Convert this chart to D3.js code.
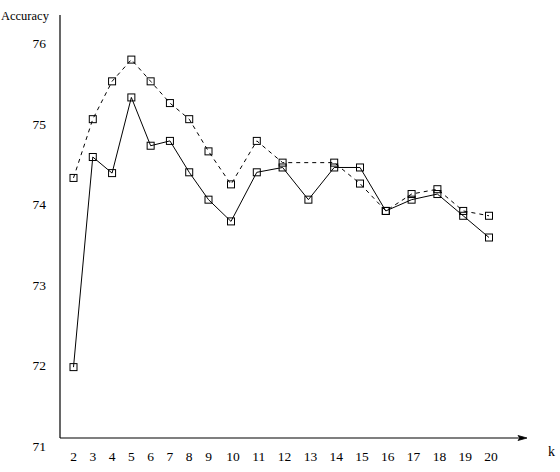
<!DOCTYPE html>
<html>
<head>
<meta charset="utf-8">
<script src="https://cdn.jsdelivr.net/npm/d3@7/dist/d3.min.js"></script>
<style>
  html, body { margin: 0; padding: 0; background: #fff; }
</style>
</head>
<body>
<svg id="chart" width="560" height="472"></svg>
<script>
// ---- data ----
const kValues = [2,3,4,5,6,7,8,9,10,11,12,13,14,15,16,17,18,19,20];
const solidSeries = [71.98,74.59,74.39,75.33,74.73,74.79,74.40,74.06,73.79,74.40,74.46,74.06,74.46,74.46,73.92,74.06,74.13,73.86,73.59];
const dashedSeries = [74.33,75.06,75.53,75.80,75.53,75.26,75.06,74.66,74.25,74.79,74.52,null,74.52,74.26,73.92,74.13,74.19,73.92,73.86];
const yTicks = [71,72,73,74,75,76];
const yLabel = "Accuracy";
const xLabel = "k";

// ---- drawing ----
const FONT = "'Liberation Serif', 'Times New Roman', 'DejaVu Serif', serif";
const svg = d3.select("#chart").attr("font-family", FONT);

const x = d3.scaleLinear().domain([2, 9, 10, 20]).range([73.5, 208.5, 231, 489]);
const y = d3.scaleLinear().domain([71, 76]).range([446, 43.5]);

const axisX = 60, axisY = 438;

// y axis line
svg.append("line").attr("x1", axisX).attr("x2", axisX).attr("y1", 15).attr("y2", axisY)
  .attr("stroke", "#000").attr("stroke-width", 1.2);
// x axis line with arrow
svg.append("line").attr("x1", axisX).attr("x2", 520).attr("y1", axisY).attr("y2", axisY)
  .attr("stroke", "#000").attr("stroke-width", 1.2);
svg.append("path").attr("d", `M527,${axisY} L518,${axisY-2.5} L520,${axisY} L518,${axisY+2.5} Z`)
  .attr("fill", "#000").attr("stroke", "#000").attr("stroke-width", 0.8);

// y tick labels
svg.selectAll("text.ytick").data(yTicks).enter().append("text")
  .attr("class", "ytick").attr("font-family", FONT)
  .attr("x", 46).attr("y", d => y(d)).attr("dy", "0.35em")
  .attr("text-anchor", "end").attr("font-size", 13.5)
  .text(d => d);

// x tick labels
svg.selectAll("text.xtick").data(kValues).enter().append("text")
  .attr("class", "xtick").attr("font-family", FONT)
  .attr("x", d => x(d) + (d >= 10 ? 2 : 0)).attr("y", 461)
  .attr("text-anchor", "middle").attr("font-size", 13.5)
  .text(d => d);

// axis labels
svg.append("text").attr("x", 1).attr("y", 20).attr("text-anchor", "start")
  .attr("font-family", FONT).attr("font-size", 12.5).text(yLabel);
svg.append("text").attr("x", 548).attr("y", 456).attr("font-family", FONT)
  .attr("font-size", 14).text(xLabel);

function pts(series) {
  return kValues.map((k, i) => ({k, v: series[i]})).filter(d => d.v !== null);
}

const line = d3.line().x(d => x(d.k)).y(d => y(d.v));

const series = [
  {data: pts(dashedSeries), dash: "4,4"},
  {data: pts(solidSeries), dash: null}
];

series.forEach(s => {
  svg.append("path").datum(s.data)
    .attr("d", line)
    .attr("fill", "none").attr("stroke", "#000").attr("stroke-width", 1)
    .attr("stroke-dasharray", s.dash);
  svg.append("g").selectAll("rect").data(s.data).enter().append("rect")
    .attr("x", d => x(d.k) - 3.5).attr("y", d => y(d.v) - 3.5)
    .attr("width", 7).attr("height", 7)
    .attr("fill", "none").attr("stroke", "#000").attr("stroke-width", 1);
});
</script>
</body>
</html>
